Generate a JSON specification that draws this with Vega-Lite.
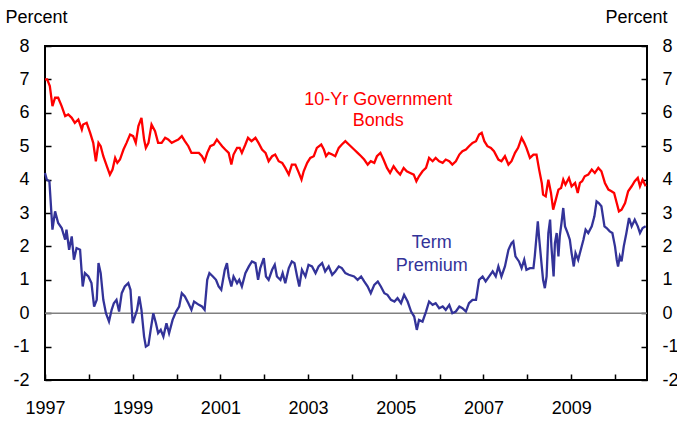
{
  "$schema": "https://vega.github.io/schema/vega-lite/v6.json",
  "width": 602,
  "height": 334,
  "autosize": "none",
  "padding": {"left": 45, "top": 46, "right": 30, "bottom": 42},
  "background": "white",
  "config": {
    "view": {"stroke": "black", "strokeWidth": 2},
    "font": "Liberation Sans",
    "axis": {
      "grid": false,
      "domain": false,
      "tickColor": "black",
      "tickSize": -6,
      "tickWidth": 1.5,
      "labelColor": "black",
      "labelFontSize": 18,
      "labelFont": "Liberation Sans",
      "titleFont": "Liberation Sans",
      "titleFontSize": 18,
      "titleFontWeight": "normal",
      "titleColor": "black"
    }
  },
  "datasets": {
    "bonds": [
      {"t": 1997.00, "v": 7.0}, {"t": 1997.05, "v": 7.0}, {"t": 1997.11, "v": 6.8}, {"t": 1997.17, "v": 6.2},
      {"t": 1997.23, "v": 6.45}, {"t": 1997.30, "v": 6.45}, {"t": 1997.38, "v": 6.2}, {"t": 1997.46, "v": 5.9},
      {"t": 1997.53, "v": 5.95}, {"t": 1997.61, "v": 5.85}, {"t": 1997.68, "v": 5.7}, {"t": 1997.76, "v": 5.8},
      {"t": 1997.84, "v": 5.5}, {"t": 1997.87, "v": 5.65}, {"t": 1997.95, "v": 5.7}, {"t": 1998.03, "v": 5.4},
      {"t": 1998.10, "v": 5.1}, {"t": 1998.16, "v": 4.55}, {"t": 1998.22, "v": 5.1}, {"t": 1998.27, "v": 5.0},
      {"t": 1998.33, "v": 4.7}, {"t": 1998.41, "v": 4.4}, {"t": 1998.48, "v": 4.15}, {"t": 1998.54, "v": 4.3},
      {"t": 1998.60, "v": 4.65}, {"t": 1998.65, "v": 4.5}, {"t": 1998.71, "v": 4.6}, {"t": 1998.79, "v": 4.9},
      {"t": 1998.86, "v": 5.1}, {"t": 1998.94, "v": 5.35}, {"t": 1999.01, "v": 5.3}, {"t": 1999.07, "v": 5.1},
      {"t": 1999.13, "v": 5.6}, {"t": 1999.20, "v": 5.85}, {"t": 1999.26, "v": 5.2}, {"t": 1999.30, "v": 4.95},
      {"t": 1999.36, "v": 5.1}, {"t": 1999.43, "v": 5.65}, {"t": 1999.51, "v": 5.45}, {"t": 1999.58, "v": 5.1},
      {"t": 1999.66, "v": 5.1}, {"t": 1999.74, "v": 5.25}, {"t": 1999.81, "v": 5.2}, {"t": 1999.89, "v": 5.1},
      {"t": 1999.96, "v": 5.15}, {"t": 2000.04, "v": 5.2}, {"t": 2000.12, "v": 5.3}, {"t": 2000.19, "v": 5.15},
      {"t": 2000.27, "v": 5.0}, {"t": 2000.34, "v": 4.8}, {"t": 2000.51, "v": 4.8}, {"t": 2000.58, "v": 4.7},
      {"t": 2000.64, "v": 4.55}, {"t": 2000.70, "v": 4.8}, {"t": 2000.77, "v": 5.0}, {"t": 2000.85, "v": 5.05},
      {"t": 2000.92, "v": 5.2}, {"t": 2000.98, "v": 5.1}, {"t": 2001.04, "v": 5.0}, {"t": 2001.11, "v": 4.9},
      {"t": 2001.19, "v": 4.8}, {"t": 2001.25, "v": 4.45}, {"t": 2001.30, "v": 4.75}, {"t": 2001.38, "v": 4.95},
      {"t": 2001.44, "v": 4.95}, {"t": 2001.49, "v": 4.8}, {"t": 2001.57, "v": 5.05}, {"t": 2001.63, "v": 5.25},
      {"t": 2001.71, "v": 5.15}, {"t": 2001.80, "v": 5.25}, {"t": 2001.87, "v": 5.1}, {"t": 2001.95, "v": 4.9},
      {"t": 2002.03, "v": 4.8}, {"t": 2002.10, "v": 4.55}, {"t": 2002.18, "v": 4.7}, {"t": 2002.25, "v": 4.75},
      {"t": 2002.33, "v": 4.55}, {"t": 2002.41, "v": 4.5}, {"t": 2002.48, "v": 4.35}, {"t": 2002.56, "v": 4.15},
      {"t": 2002.63, "v": 4.45}, {"t": 2002.71, "v": 4.45}, {"t": 2002.79, "v": 4.2}, {"t": 2002.85, "v": 4.0},
      {"t": 2002.90, "v": 4.25}, {"t": 2002.98, "v": 4.5}, {"t": 2003.05, "v": 4.65}, {"t": 2003.13, "v": 4.7},
      {"t": 2003.20, "v": 4.95}, {"t": 2003.30, "v": 5.05}, {"t": 2003.36, "v": 4.9}, {"t": 2003.41, "v": 4.7},
      {"t": 2003.47, "v": 4.8}, {"t": 2003.55, "v": 4.75}, {"t": 2003.62, "v": 4.7}, {"t": 2003.70, "v": 4.95},
      {"t": 2003.77, "v": 5.05}, {"t": 2003.85, "v": 5.15}, {"t": 2003.93, "v": 5.05}, {"t": 2004.05, "v": 4.9},
      {"t": 2004.13, "v": 4.8}, {"t": 2004.21, "v": 4.7}, {"t": 2004.28, "v": 4.6}, {"t": 2004.36, "v": 4.45},
      {"t": 2004.43, "v": 4.55}, {"t": 2004.51, "v": 4.5}, {"t": 2004.57, "v": 4.7}, {"t": 2004.65, "v": 4.8},
      {"t": 2004.72, "v": 4.6}, {"t": 2004.80, "v": 4.35}, {"t": 2004.87, "v": 4.2}, {"t": 2004.95, "v": 4.4},
      {"t": 2005.03, "v": 4.25}, {"t": 2005.10, "v": 4.15}, {"t": 2005.18, "v": 4.35}, {"t": 2005.25, "v": 4.25},
      {"t": 2005.33, "v": 4.2}, {"t": 2005.41, "v": 4.15}, {"t": 2005.47, "v": 3.95}, {"t": 2005.53, "v": 4.1},
      {"t": 2005.61, "v": 4.25}, {"t": 2005.69, "v": 4.35}, {"t": 2005.76, "v": 4.65}, {"t": 2005.84, "v": 4.55},
      {"t": 2005.91, "v": 4.65}, {"t": 2005.99, "v": 4.55}, {"t": 2006.07, "v": 4.5}, {"t": 2006.14, "v": 4.6},
      {"t": 2006.22, "v": 4.55}, {"t": 2006.29, "v": 4.45}, {"t": 2006.37, "v": 4.55}, {"t": 2006.45, "v": 4.75},
      {"t": 2006.52, "v": 4.85}, {"t": 2006.60, "v": 4.9}, {"t": 2006.67, "v": 5.0}, {"t": 2006.75, "v": 5.1},
      {"t": 2006.83, "v": 5.15}, {"t": 2006.90, "v": 5.35}, {"t": 2006.96, "v": 5.4}, {"t": 2007.02, "v": 5.15},
      {"t": 2007.09, "v": 5.0}, {"t": 2007.17, "v": 4.95}, {"t": 2007.24, "v": 4.85}, {"t": 2007.34, "v": 4.6},
      {"t": 2007.41, "v": 4.55}, {"t": 2007.49, "v": 4.7}, {"t": 2007.57, "v": 4.45}, {"t": 2007.64, "v": 4.55},
      {"t": 2007.72, "v": 4.8}, {"t": 2007.79, "v": 4.95}, {"t": 2007.87, "v": 5.25}, {"t": 2007.93, "v": 5.1},
      {"t": 2007.98, "v": 4.95}, {"t": 2008.06, "v": 4.65}, {"t": 2008.14, "v": 4.75}, {"t": 2008.21, "v": 4.75},
      {"t": 2008.27, "v": 4.3}, {"t": 2008.33, "v": 3.9}, {"t": 2008.36, "v": 3.55}, {"t": 2008.42, "v": 3.5},
      {"t": 2008.48, "v": 4.0}, {"t": 2008.54, "v": 3.6}, {"t": 2008.59, "v": 3.1}, {"t": 2008.65, "v": 3.4},
      {"t": 2008.71, "v": 3.7}, {"t": 2008.77, "v": 3.75}, {"t": 2008.82, "v": 4.0}, {"t": 2008.87, "v": 3.85},
      {"t": 2008.95, "v": 4.05}, {"t": 2009.01, "v": 3.8}, {"t": 2009.09, "v": 3.9}, {"t": 2009.15, "v": 3.6},
      {"t": 2009.20, "v": 3.9}, {"t": 2009.25, "v": 3.95}, {"t": 2009.31, "v": 4.1}, {"t": 2009.39, "v": 4.15},
      {"t": 2009.47, "v": 4.3}, {"t": 2009.54, "v": 4.2}, {"t": 2009.62, "v": 4.35}, {"t": 2009.69, "v": 4.25},
      {"t": 2009.77, "v": 3.9}, {"t": 2009.85, "v": 3.7}, {"t": 2009.92, "v": 3.65}, {"t": 2009.98, "v": 3.6},
      {"t": 2010.04, "v": 3.3}, {"t": 2010.09, "v": 3.05}, {"t": 2010.15, "v": 3.1}, {"t": 2010.23, "v": 3.3},
      {"t": 2010.30, "v": 3.65}, {"t": 2010.38, "v": 3.8}, {"t": 2010.45, "v": 3.95}, {"t": 2010.52, "v": 4.05},
      {"t": 2010.57, "v": 3.8}, {"t": 2010.63, "v": 4.0}, {"t": 2010.70, "v": 3.8}
    ],
    "term": [
      {"t": 1997.00, "v": 4.2}, {"t": 1997.04, "v": 4.0}, {"t": 1997.10, "v": 3.95}, {"t": 1997.17, "v": 2.5},
      {"t": 1997.23, "v": 3.05}, {"t": 1997.30, "v": 2.7}, {"t": 1997.38, "v": 2.55}, {"t": 1997.46, "v": 2.2},
      {"t": 1997.49, "v": 2.5}, {"t": 1997.55, "v": 1.9}, {"t": 1997.61, "v": 2.3}, {"t": 1997.66, "v": 1.6},
      {"t": 1997.72, "v": 1.95}, {"t": 1997.80, "v": 1.9}, {"t": 1997.86, "v": 0.8}, {"t": 1997.91, "v": 1.2},
      {"t": 1997.99, "v": 1.1}, {"t": 1998.06, "v": 0.9}, {"t": 1998.12, "v": 0.2}, {"t": 1998.18, "v": 0.4},
      {"t": 1998.22, "v": 1.5}, {"t": 1998.27, "v": 1.2}, {"t": 1998.33, "v": 0.4}, {"t": 1998.39, "v": 0.0},
      {"t": 1998.46, "v": -0.25}, {"t": 1998.52, "v": 0.1}, {"t": 1998.57, "v": 0.3}, {"t": 1998.63, "v": 0.4},
      {"t": 1998.69, "v": 0.05}, {"t": 1998.75, "v": 0.6}, {"t": 1998.82, "v": 0.8}, {"t": 1998.90, "v": 0.9},
      {"t": 1998.95, "v": 0.7}, {"t": 1999.00, "v": -0.3}, {"t": 1999.05, "v": -0.1}, {"t": 1999.10, "v": 0.1},
      {"t": 1999.15, "v": 0.5}, {"t": 1999.20, "v": 0.1}, {"t": 1999.26, "v": -0.7}, {"t": 1999.30, "v": -1.0},
      {"t": 1999.36, "v": -0.95}, {"t": 1999.41, "v": -0.5}, {"t": 1999.47, "v": 0.0}, {"t": 1999.53, "v": -0.3},
      {"t": 1999.58, "v": -0.6}, {"t": 1999.64, "v": -0.5}, {"t": 1999.70, "v": -0.7}, {"t": 1999.77, "v": -0.3},
      {"t": 1999.83, "v": -0.6}, {"t": 1999.91, "v": -0.2}, {"t": 1999.99, "v": 0.05}, {"t": 2000.06, "v": 0.2},
      {"t": 2000.12, "v": 0.6}, {"t": 2000.19, "v": 0.5}, {"t": 2000.27, "v": 0.3}, {"t": 2000.34, "v": 0.1},
      {"t": 2000.40, "v": 0.35}, {"t": 2000.51, "v": 0.25}, {"t": 2000.58, "v": 0.2}, {"t": 2000.64, "v": 0.1},
      {"t": 2000.70, "v": 1.0}, {"t": 2000.75, "v": 1.2}, {"t": 2000.83, "v": 1.1}, {"t": 2000.90, "v": 1.0},
      {"t": 2000.96, "v": 0.8}, {"t": 2001.02, "v": 0.7}, {"t": 2001.10, "v": 1.3}, {"t": 2001.15, "v": 1.5},
      {"t": 2001.19, "v": 1.1}, {"t": 2001.25, "v": 0.8}, {"t": 2001.30, "v": 1.1}, {"t": 2001.38, "v": 0.9},
      {"t": 2001.43, "v": 1.0}, {"t": 2001.49, "v": 0.8}, {"t": 2001.57, "v": 1.2}, {"t": 2001.65, "v": 1.4},
      {"t": 2001.72, "v": 1.55}, {"t": 2001.80, "v": 1.5}, {"t": 2001.86, "v": 1.0}, {"t": 2001.91, "v": 1.35},
      {"t": 2001.99, "v": 1.65}, {"t": 2002.04, "v": 1.1}, {"t": 2002.10, "v": 1.0}, {"t": 2002.18, "v": 1.3},
      {"t": 2002.24, "v": 1.45}, {"t": 2002.29, "v": 1.1}, {"t": 2002.37, "v": 1.0}, {"t": 2002.42, "v": 1.2},
      {"t": 2002.48, "v": 0.9}, {"t": 2002.56, "v": 1.35}, {"t": 2002.63, "v": 1.55}, {"t": 2002.69, "v": 1.5},
      {"t": 2002.75, "v": 1.1}, {"t": 2002.80, "v": 0.8}, {"t": 2002.86, "v": 1.3}, {"t": 2002.94, "v": 1.1},
      {"t": 2003.01, "v": 1.45}, {"t": 2003.09, "v": 1.4}, {"t": 2003.17, "v": 1.2}, {"t": 2003.24, "v": 1.4},
      {"t": 2003.32, "v": 1.5}, {"t": 2003.39, "v": 1.25}, {"t": 2003.47, "v": 1.4}, {"t": 2003.55, "v": 1.15},
      {"t": 2003.62, "v": 1.25}, {"t": 2003.70, "v": 1.4}, {"t": 2003.77, "v": 1.35}, {"t": 2003.85, "v": 1.2},
      {"t": 2003.93, "v": 1.15}, {"t": 2004.05, "v": 1.1}, {"t": 2004.13, "v": 1.0}, {"t": 2004.21, "v": 1.1},
      {"t": 2004.28, "v": 0.95}, {"t": 2004.36, "v": 0.8}, {"t": 2004.43, "v": 0.6}, {"t": 2004.51, "v": 0.85},
      {"t": 2004.59, "v": 0.95}, {"t": 2004.66, "v": 0.8}, {"t": 2004.74, "v": 0.6}, {"t": 2004.81, "v": 0.55},
      {"t": 2004.89, "v": 0.4}, {"t": 2004.97, "v": 0.35}, {"t": 2005.04, "v": 0.45}, {"t": 2005.12, "v": 0.3},
      {"t": 2005.19, "v": 0.55}, {"t": 2005.27, "v": 0.35}, {"t": 2005.35, "v": 0.05}, {"t": 2005.42, "v": -0.1},
      {"t": 2005.48, "v": -0.5}, {"t": 2005.53, "v": -0.2}, {"t": 2005.61, "v": -0.25}, {"t": 2005.69, "v": 0.05},
      {"t": 2005.76, "v": 0.35}, {"t": 2005.84, "v": 0.25}, {"t": 2005.91, "v": 0.3}, {"t": 2005.99, "v": 0.15},
      {"t": 2006.07, "v": 0.2}, {"t": 2006.14, "v": 0.1}, {"t": 2006.22, "v": 0.25}, {"t": 2006.29, "v": 0.0},
      {"t": 2006.37, "v": 0.05}, {"t": 2006.45, "v": 0.2}, {"t": 2006.52, "v": 0.15}, {"t": 2006.60, "v": 0.05},
      {"t": 2006.67, "v": 0.3}, {"t": 2006.75, "v": 0.4}, {"t": 2006.83, "v": 0.4}, {"t": 2006.90, "v": 1.0},
      {"t": 2006.98, "v": 1.1}, {"t": 2007.05, "v": 0.95}, {"t": 2007.13, "v": 1.1}, {"t": 2007.21, "v": 1.25},
      {"t": 2007.28, "v": 1.1}, {"t": 2007.34, "v": 1.4}, {"t": 2007.41, "v": 1.1}, {"t": 2007.49, "v": 1.4},
      {"t": 2007.57, "v": 1.9}, {"t": 2007.64, "v": 2.1}, {"t": 2007.68, "v": 2.15}, {"t": 2007.73, "v": 1.7},
      {"t": 2007.81, "v": 1.55}, {"t": 2007.87, "v": 1.35}, {"t": 2007.93, "v": 1.6}, {"t": 2007.98, "v": 1.3},
      {"t": 2008.06, "v": 1.35}, {"t": 2008.14, "v": 1.35}, {"t": 2008.17, "v": 1.7}, {"t": 2008.24, "v": 2.75},
      {"t": 2008.27, "v": 2.25}, {"t": 2008.33, "v": 1.4}, {"t": 2008.36, "v": 1.0}, {"t": 2008.40, "v": 0.75},
      {"t": 2008.44, "v": 1.1}, {"t": 2008.48, "v": 2.4}, {"t": 2008.52, "v": 2.8}, {"t": 2008.55, "v": 2.0},
      {"t": 2008.60, "v": 1.1}, {"t": 2008.63, "v": 2.1}, {"t": 2008.67, "v": 2.4}, {"t": 2008.71, "v": 1.7},
      {"t": 2008.74, "v": 2.3}, {"t": 2008.78, "v": 2.7}, {"t": 2008.82, "v": 3.15}, {"t": 2008.86, "v": 2.6},
      {"t": 2008.92, "v": 2.4}, {"t": 2008.97, "v": 2.2}, {"t": 2009.01, "v": 1.8}, {"t": 2009.06, "v": 1.4},
      {"t": 2009.10, "v": 1.8}, {"t": 2009.16, "v": 1.6}, {"t": 2009.22, "v": 1.9}, {"t": 2009.28, "v": 2.2},
      {"t": 2009.33, "v": 2.5}, {"t": 2009.39, "v": 2.4}, {"t": 2009.47, "v": 2.6}, {"t": 2009.53, "v": 2.9},
      {"t": 2009.58, "v": 3.35}, {"t": 2009.63, "v": 3.3}, {"t": 2009.69, "v": 3.2}, {"t": 2009.76, "v": 2.6},
      {"t": 2009.81, "v": 2.55}, {"t": 2009.88, "v": 2.45}, {"t": 2009.94, "v": 2.4}, {"t": 2010.00, "v": 2.0},
      {"t": 2010.04, "v": 1.6}, {"t": 2010.07, "v": 1.4}, {"t": 2010.11, "v": 1.7}, {"t": 2010.15, "v": 1.55},
      {"t": 2010.20, "v": 2.0}, {"t": 2010.26, "v": 2.4}, {"t": 2010.32, "v": 2.85}, {"t": 2010.38, "v": 2.6},
      {"t": 2010.45, "v": 2.8}, {"t": 2010.52, "v": 2.6}, {"t": 2010.57, "v": 2.4}, {"t": 2010.63, "v": 2.55},
      {"t": 2010.70, "v": 2.6}
    ],
    "zero": [{"v": 0}],
    "bondsLabel": [
      {"t": 2004.60, "v": 6.38, "text": "10-Yr Government"},
      {"t": 2004.60, "v": 5.75, "text": "Bonds"}
    ],
    "termLabel": [
      {"t": 2005.82, "v": 2.1, "text": "Term"},
      {"t": 2005.82, "v": 1.41, "text": "Premium"}
    ]
  },
  "layer": [
    {
      "data": {"name": "zero"},
      "mark": {"type": "rule", "color": "#808080", "strokeWidth": 1.5},
      "encoding": {
        "y": {
          "field": "v", "type": "quantitative",
          "scale": {"domain": [-2, 8], "nice": false, "zero": false},
          "axis": {
            "orient": "right", "values": [-2, -1, 0, 1, 2, 3, 4, 5, 6, 7, 8],
            "labelExpr": "'' + datum.value",
            "labelPadding": 21, "labelAlign": "left",
            "title": "Percent", "titleAngle": 0, "titleAlign": "left", "titleBaseline": "alphabetic",
            "titleX": -42, "titleY": -24
          }
        }
      }
    },
    {
      "data": {"name": "bonds"},
      "mark": {"type": "line", "color": "#FF0000", "strokeWidth": 2.3},
      "encoding": {
        "x": {
          "field": "t", "type": "quantitative",
          "scale": {"domain": [1997, 2010.73], "nice": false, "zero": false},
          "axis": {
            "values": [1997, 1998, 1999, 2000, 2001, 2002, 2003, 2004, 2005, 2006, 2007, 2008, 2009, 2010],
            "format": "d",
            "labelExpr": "datum.value % 2 == 1 ? datum.label : ''",
            "labelPadding": 25, "labelFlush": false, "labelOverlap": false,
            "title": null
          }
        },
        "y": {
          "field": "v", "type": "quantitative",
          "scale": {"domain": [-2, 8], "nice": false, "zero": false},
          "axis": {
            "orient": "left", "values": [-2, -1, 0, 1, 2, 3, 4, 5, 6, 7, 8],
            "labelExpr": "'' + datum.value",
            "labelPadding": 22,
            "title": "Percent", "titleAngle": 0, "titleAlign": "left", "titleBaseline": "alphabetic",
            "titleX": -40, "titleY": -24
          }
        }
      }
    },
    {
      "data": {"name": "term"},
      "mark": {"type": "line", "color": "#333399", "strokeWidth": 2.3},
      "encoding": {
        "x": {"field": "t", "type": "quantitative"},
        "y": {"field": "v", "type": "quantitative", "axis": null}
      }
    },
    {
      "data": {"name": "bondsLabel"},
      "mark": {"type": "text", "color": "#FF0000", "fontSize": 18, "align": "center", "baseline": "middle", "font": "Liberation Sans"},
      "encoding": {
        "x": {"field": "t", "type": "quantitative"},
        "y": {"field": "v", "type": "quantitative", "axis": null},
        "text": {"field": "text"}
      }
    },
    {
      "data": {"name": "termLabel"},
      "mark": {"type": "text", "color": "#333399", "fontSize": 18, "align": "center", "baseline": "middle", "font": "Liberation Sans"},
      "encoding": {
        "x": {"field": "t", "type": "quantitative"},
        "y": {"field": "v", "type": "quantitative", "axis": null},
        "text": {"field": "text"}
      }
    }
  ],
  "resolve": {"axis": {"y": "independent"}}
}
